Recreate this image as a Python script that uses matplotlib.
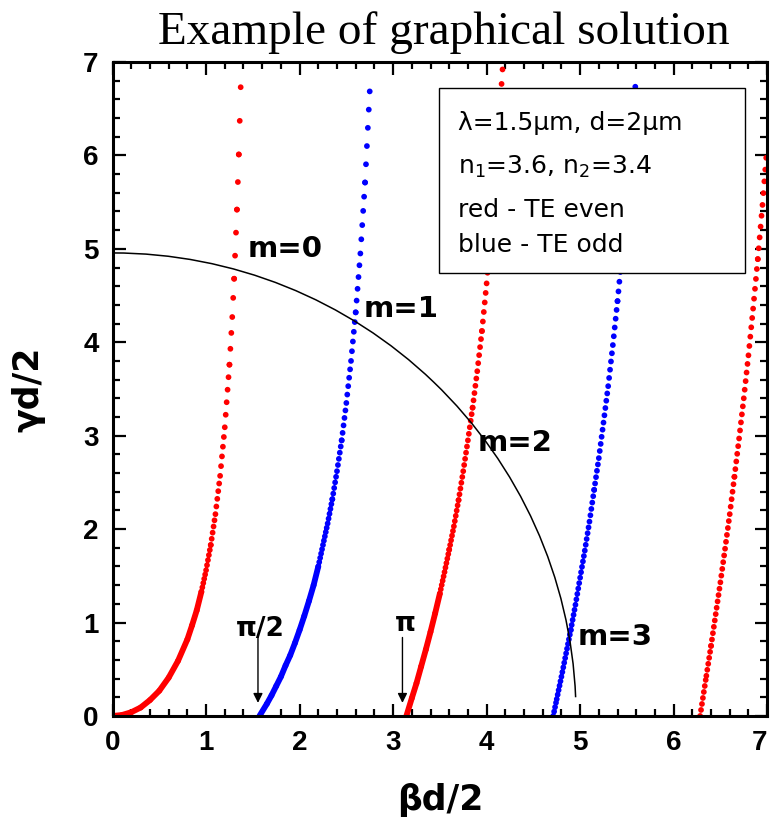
import numpy as np
import matplotlib
matplotlib.use('Agg')
import matplotlib.pyplot as plt
from matplotlib.patches import Arc, Rectangle
from matplotlib.ticker import MultipleLocator

plt.rcParams['lines.scale_dashes'] = False
plt.rcParams['mathtext.fontset'] = 'dejavusans'

# values
ticks = [0, 1, 2, 3, 4, 5, 6, 7]
tick_labels = ['0', '1', '2', '3', '4', '5', '6', '7']

# TE even, m=0 (red)
red0_x = [0.0, 0.1, 0.2, 0.3, 0.4, 0.5, 0.6, 0.7, 0.8, 0.85, 0.9, 0.95, 1.0,
          1.05, 1.1, 1.15, 1.2, 1.25, 1.28, 1.3, 1.33, 1.35, 1.37]
red0_y = [0.0, 0.01, 0.04, 0.09, 0.17, 0.27, 0.41, 0.59, 0.82, 0.97, 1.13, 1.33,
          1.56, 1.83, 2.16, 2.57, 3.09, 3.76, 4.27, 4.68, 5.42, 6.01, 6.73]
# TE odd, m=1 (blue)
blue1_x = [1.571, 1.65, 1.7, 1.75, 1.8, 1.85, 1.9, 1.95, 2.0, 2.05, 2.1, 2.15,
           2.2, 2.25, 2.3, 2.35, 2.4, 2.45, 2.5, 2.55, 2.6, 2.65, 2.7, 2.76]
blue1_y = [0.0, 0.13, 0.22, 0.32, 0.42, 0.54, 0.65, 0.78, 0.92, 1.07, 1.23, 1.40,
           1.60, 1.83, 2.06, 2.32, 2.62, 2.95, 3.35, 3.80, 4.32, 4.95, 5.71, 6.88]
# TE even, m=2 (red)
red2_x = [3.142, 3.2, 3.25, 3.3, 3.35, 3.4, 3.45, 3.5, 3.55, 3.6, 3.65, 3.7,
          3.75, 3.8, 3.85, 3.9, 3.95, 4.0, 4.05, 4.1, 4.13, 4.17]
red2_y = [0.0, 0.19, 0.35, 0.53, 0.71, 0.90, 1.10, 1.31, 1.54, 1.78, 2.03, 2.31,
          2.62, 2.95, 3.30, 3.69, 4.12, 4.63, 5.20, 5.84, 6.30, 6.92]
# TE odd, m=3 (blue)
blue3_x = [4.712, 4.75, 4.8, 4.85, 4.9, 4.95, 5.0, 5.05, 5.1, 5.15, 5.2, 5.25,
           5.3, 5.35, 5.4, 5.45, 5.5, 5.55, 5.58, 5.6]
blue3_y = [0.0, 0.18, 0.42, 0.67, 0.92, 1.19, 1.48, 1.77, 2.08, 2.42, 2.76, 3.14,
           3.53, 3.97, 4.44, 4.96, 5.53, 6.18, 6.58, 6.89]
# TE even, m=4 (red)
red4_x = [6.283, 6.35, 6.4, 6.45, 6.5, 6.55, 6.6, 6.65, 6.7, 6.75, 6.8, 6.85,
          6.9, 6.95, 7.0]
red4_y = [0.0, 0.43, 0.75, 1.09, 1.43, 1.79, 2.16, 2.56, 2.97, 3.40, 3.86, 4.36,
          4.89, 5.47, 6.10]

circle_radius = 4.956
circle_end_y = 0.2

mode_labels = ['m=0', 'm=1', 'm=2', 'm=3']
mode_label_x = [1.44, 2.68, 3.90, 4.97]
mode_label_y = [4.91, 4.27, 2.84, 0.76]

arrow_x = [1.555, 3.10]
arrow_labels = ['\u03c0/2', '\u03c0']
arrow_label_y = [0.84, 0.89]

info_lines = ['\u03bb=1.5\u03bcm, d=2\u03bcm', 'n$_1$=3.6, n$_2$=3.4',
              'red - TE even', 'blue - TE odd']
info_y = [0.907, 0.840, 0.774, 0.720]

DPI = 100
dot_step = 0.01   # x-step between plotted dots in the original
dot_lw = 4.2

fig = plt.figure(figsize=(7.71, 8.22), dpi=DPI)
ax = fig.add_axes([0.146, 0.129, 0.849, 0.7956])
ax.set_xlim(0, 7)
ax.set_ylim(0, 7)


def dotted(x, y, color):
    x = np.asarray(x)
    y = np.asarray(y)
    pts = ax.transData.transform(np.column_stack([x, y])) * 72.0 / DPI
    for i in range(len(x) - 1):
        seg = np.hypot(*(pts[i + 1] - pts[i]))
        ndots = max((x[i + 1] - x[i]) / dot_step, 1)
        gap = seg / ndots
        if gap < 3.0:
            ax.plot(x[i:i + 2], y[i:i + 2], color=color, lw=dot_lw,
                    solid_capstyle='round', zorder=2)
        else:
            ax.plot(x[i:i + 2], y[i:i + 2], color=color, lw=dot_lw,
                    linestyle=(0, (0.01, gap - 0.01)), dash_capstyle='round',
                    zorder=2)


dotted(red0_x, red0_y, 'red')
dotted(blue1_x, blue1_y, 'blue')
dotted(red2_x, red2_y, 'red')
dotted(blue3_x, blue3_y, 'blue')
dotted(red4_x, red4_y, 'red')

theta_end = np.degrees(np.arcsin(circle_end_y / circle_radius))
ax.add_patch(Arc((0, 0), 2 * circle_radius, 2 * circle_radius,
                 theta1=theta_end, theta2=90, color='black', lw=1.1, zorder=3))

bold = dict(family='Liberation Sans', weight='bold')
wide_bold = dict(family='DejaVu Sans', weight='bold')
for lab, lx, ly in zip(mode_labels, mode_label_x, mode_label_y):
    ax.text(lx, ly, lab, fontsize=21, ha='left', va='baseline', zorder=4,
            **wide_bold)

for axx, lab, ly in zip(arrow_x, arrow_labels, arrow_label_y):
    ax.annotate('', xy=(axx, 0.14), xytext=(axx, 0.84),
                arrowprops=dict(arrowstyle='-|>', color='black', lw=1.0,
                                mutation_scale=14, shrinkA=0, shrinkB=0))
    ax.text(axx + 0.03, ly + 0.02, lab, fontsize=19, ha='center', va='baseline',
            **wide_bold)

# info box
ax.add_patch(Rectangle((0.499, 0.677), 0.467, 0.283, transform=ax.transAxes,
                       facecolor='white', edgecolor='black', lw=1.0, zorder=5))
for line, ly in zip(info_lines, info_y):
    ax.text(0.528, ly, line, transform=ax.transAxes, fontsize=18,
            family='DejaVu Sans', ha='left', va='center', zorder=6)

ax.set_xticks(ticks)
ax.set_yticks(ticks)
ax.set_xticklabels(tick_labels, fontsize=20, **bold)
ax.set_yticklabels(tick_labels, fontsize=20, **bold)
ax.get_xticklabels()[-1].set_horizontalalignment('right')
ax.xaxis.set_minor_locator(MultipleLocator(0.2))
ax.yaxis.set_minor_locator(MultipleLocator(0.2))
ax.tick_params(which='both', direction='in', top=True, right=True, width=1.6)
ax.tick_params(which='major', length=9)
ax.tick_params(which='minor', length=5)
ax.tick_params(axis='x', which='major', pad=10)
ax.tick_params(axis='y', which='major', pad=10)
for sp in ax.spines.values():
    sp.set_linewidth(2.2)
    sp.set_zorder(7)

xl = ax.set_xlabel('\u03b2d/2', fontsize=25, **wide_bold)
yl = ax.set_ylabel('\u03b3d/2', fontsize=25, **wide_bold)
ax.xaxis.set_label_coords(0.5, -0.128)
ax.yaxis.set_label_coords(-0.128, 0.5)
xl.set_verticalalignment('center')
yl.set_horizontalalignment('center')
yl.set_verticalalignment('center')
fig.text(0.575, 0.960, 'Example of graphical solution', fontsize=34,
         family='Liberation Serif', ha='center', va='center')

fig.savefig('out.png', dpi=DPI)
